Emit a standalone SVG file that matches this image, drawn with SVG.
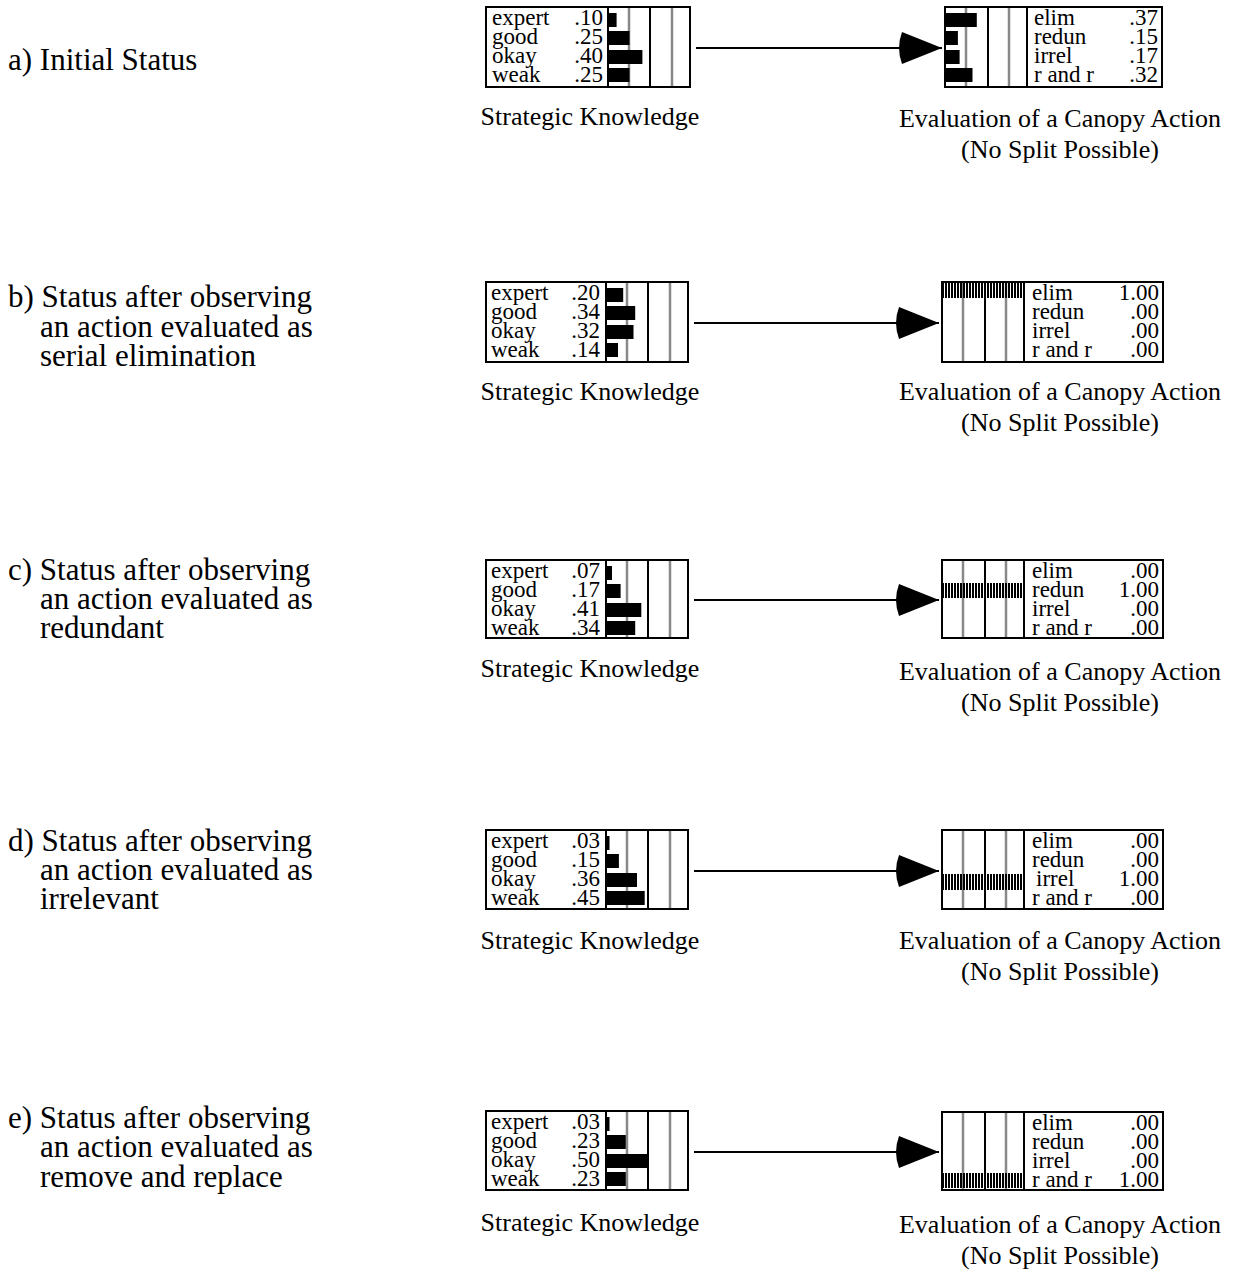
<svg xmlns="http://www.w3.org/2000/svg" width="1234" height="1270" viewBox="0 0 1234 1270">
<style>
.box{fill:#fff;stroke:#000;stroke-width:2}
.dv{stroke:#000;stroke-width:2}
.gr{stroke:#888;stroke-width:2.5}
.bk{stroke:#000;stroke-width:2}
.bar{fill:#000}
.hb{fill:url(#hatch)}
text{font-family:"Liberation Serif","Times New Roman",serif;fill:#000}
.t{font-size:23px}
.v{text-anchor:end}
.lbl{font-size:26px;text-anchor:middle}
.hd{font-size:31px}
.conn{stroke:#000;stroke-width:2;fill:none}
</style>
<defs>
<pattern id="hatch" width="3" height="40" patternUnits="userSpaceOnUse"><rect x="0" y="0" width="2" height="40" fill="#000"/></pattern>
<marker id="arr" viewBox="0 0 46 32" refX="46" refY="16" markerWidth="46" markerHeight="32" markerUnits="userSpaceOnUse" orient="auto"><path d="M46,16 L6,0 Q0,16 6,32 Z" fill="#000"/></marker>
</defs>

<!-- Panel a -->
<g id="panel-a">
<text class="hd" x="8" y="70">a) Initial Status</text>
<g id="sk-a" transform="translate(2,7)">
<rect class="box" x="484" y="0" width="204" height="80"/>
<line class="gr" x1="627" y1="1" x2="627" y2="79"/><line class="bk" x1="648" y1="1" x2="648" y2="79"/><line class="gr" x1="670" y1="1" x2="670" y2="79"/>
<rect class="bar" x="606" y="6" width="8.6" height="14"/><rect class="bar" x="606" y="24" width="21.5" height="14"/><rect class="bar" x="606" y="43" width="34.4" height="14"/><rect class="bar" x="606" y="61" width="21.5" height="14"/>
<line class="dv" x1="606" y1="0" x2="606" y2="80"/>
<text class="t" x="490" y="18">expert</text><text class="t" x="490" y="37">good</text><text class="t" x="490" y="56">okay</text><text class="t" x="490" y="75">weak</text>
<text class="t v" x="601" y="18">.10</text><text class="t v" x="601" y="37">.25</text><text class="t v" x="601" y="56">.40</text><text class="t v" x="601" y="75">.25</text>
<text class="lbl" x="588" y="118">Strategic Knowledge</text>
</g>
<g id="eval-a" transform="translate(3,7)">
<rect class="box" x="942" y="0" width="217" height="80"/>
<line class="gr" x1="963" y1="1" x2="963" y2="79"/><line class="bk" x1="985" y1="1" x2="985" y2="79"/><line class="gr" x1="1006" y1="1" x2="1006" y2="79"/>
<rect class="bar" x="942" y="6" width="31.8" height="14"/><rect class="bar" x="942" y="24" width="12.9" height="14"/><rect class="bar" x="942" y="43" width="14.6" height="14"/><rect class="bar" x="942" y="61" width="27.5" height="14"/>
<line class="dv" x1="1024" y1="0" x2="1024" y2="80"/>
<text class="t" x="1031" y="18">elim</text><text class="t" x="1031" y="37">redun</text><text class="t" x="1031" y="56">irrel</text><text class="t" x="1031" y="75">r and r</text>
<text class="t v" x="1155" y="18">.37</text><text class="t v" x="1155" y="37">.15</text><text class="t v" x="1155" y="56">.17</text><text class="t v" x="1155" y="75">.32</text>
<text class="lbl" x="1057" y="120">Evaluation of a Canopy Action</text>
<text class="lbl" x="1057" y="151">(No Split Possible)</text>
</g>
</g>

<!-- Panel b -->
<g id="panel-b">
<text class="hd" x="8" y="307">b) Status after observing</text>
<text class="hd" x="40" y="337">an action evaluated as</text>
<text class="hd" x="40" y="366">serial elimination</text>
<g id="sk-b" transform="translate(0,282)">
<rect class="box" x="486" y="0" width="202" height="80"/>
<line class="gr" x1="627" y1="1" x2="627" y2="79"/><line class="bk" x1="648" y1="1" x2="648" y2="79"/><line class="gr" x1="670" y1="1" x2="670" y2="79"/>
<rect class="bar" x="606" y="6" width="17.2" height="14"/><rect class="bar" x="606" y="24" width="29.2" height="14"/><rect class="bar" x="606" y="43" width="27.5" height="14"/><rect class="bar" x="606" y="61" width="12" height="14"/>
<line class="dv" x1="606" y1="0" x2="606" y2="80"/>
<text class="t" x="491" y="18">expert</text><text class="t" x="491" y="37">good</text><text class="t" x="491" y="56">okay</text><text class="t" x="491" y="75">weak</text>
<text class="t v" x="600" y="18">.20</text><text class="t v" x="600" y="37">.34</text><text class="t v" x="600" y="56">.32</text><text class="t v" x="600" y="75">.14</text>
<text class="lbl" x="590" y="118">Strategic Knowledge</text>
</g>
<g id="eval-b" transform="translate(0,282)">
<rect class="box" x="942" y="0" width="221" height="80"/>
<line class="gr" x1="963" y1="1" x2="963" y2="79"/><line class="bk" x1="985" y1="1" x2="985" y2="79"/><line class="gr" x1="1006" y1="1" x2="1006" y2="79"/>
<rect class="hb" x="943" y="1" width="81" height="15"/>
<line class="dv" x1="1024" y1="0" x2="1024" y2="80"/>
<text class="t" x="1032" y="18">elim</text><text class="t" x="1032" y="37">redun</text><text class="t" x="1032" y="56">irrel</text><text class="t" x="1032" y="75">r and r</text>
<text class="t v" x="1159" y="18">1.00</text><text class="t v" x="1159" y="37">.00</text><text class="t v" x="1159" y="56">.00</text><text class="t v" x="1159" y="75">.00</text>
<text class="lbl" x="1060" y="118">Evaluation of a Canopy Action</text>
<text class="lbl" x="1060" y="149">(No Split Possible)</text>
</g>
</g>

<!-- Panel c -->
<g id="panel-c">
<text class="hd" x="8" y="580">c) Status after observing</text>
<text class="hd" x="40" y="609">an action evaluated as</text>
<text class="hd" x="40" y="638">redundant</text>
<g id="sk-c" transform="translate(0,560)">
<rect class="box" x="486" y="0" width="202" height="78"/>
<line class="gr" x1="627" y1="1" x2="627" y2="77"/><line class="bk" x1="648" y1="1" x2="648" y2="77"/><line class="gr" x1="670" y1="1" x2="670" y2="77"/>
<rect class="bar" x="606" y="6" width="6" height="14"/><rect class="bar" x="606" y="24" width="14.6" height="14"/><rect class="bar" x="606" y="43" width="35.3" height="14"/><rect class="bar" x="606" y="61" width="29.2" height="14"/>
<line class="dv" x1="606" y1="0" x2="606" y2="78"/>
<text class="t" x="491" y="18">expert</text><text class="t" x="491" y="37">good</text><text class="t" x="491" y="56">okay</text><text class="t" x="491" y="75">weak</text>
<text class="t v" x="600" y="18">.07</text><text class="t v" x="600" y="37">.17</text><text class="t v" x="600" y="56">.41</text><text class="t v" x="600" y="75">.34</text>
<text class="lbl" x="590" y="117">Strategic Knowledge</text>
</g>
<g id="eval-c" transform="translate(0,560)">
<rect class="box" x="942" y="0" width="221" height="78"/>
<line class="gr" x1="963" y1="1" x2="963" y2="77"/><line class="bk" x1="985" y1="1" x2="985" y2="77"/><line class="gr" x1="1006" y1="1" x2="1006" y2="77"/>
<rect class="hb" x="943" y="23" width="81" height="15"/>
<line class="dv" x1="1024" y1="0" x2="1024" y2="78"/>
<text class="t" x="1032" y="18">elim</text><text class="t" x="1032" y="37">redun</text><text class="t" x="1032" y="56">irrel</text><text class="t" x="1032" y="75">r and r</text>
<text class="t v" x="1159" y="18">.00</text><text class="t v" x="1159" y="37">1.00</text><text class="t v" x="1159" y="56">.00</text><text class="t v" x="1159" y="75">.00</text>
<text class="lbl" x="1060" y="120">Evaluation of a Canopy Action</text>
<text class="lbl" x="1060" y="151">(No Split Possible)</text>
</g>
</g>

<!-- Panel d -->
<g id="panel-d">
<text class="hd" x="8" y="851">d) Status after observing</text>
<text class="hd" x="40" y="880">an action evaluated as</text>
<text class="hd" x="40" y="909">irrelevant</text>
<g id="sk-d" transform="translate(0,830)">
<rect class="box" x="486" y="0" width="202" height="79"/>
<line class="gr" x1="627" y1="1" x2="627" y2="78"/><line class="bk" x1="648" y1="1" x2="648" y2="78"/><line class="gr" x1="670" y1="1" x2="670" y2="78"/>
<rect class="bar" x="606" y="6" width="3.5" height="14"/><rect class="bar" x="606" y="24" width="12.9" height="14"/><rect class="bar" x="606" y="43" width="31" height="14"/><rect class="bar" x="606" y="61" width="38.7" height="14"/>
<line class="dv" x1="606" y1="0" x2="606" y2="79"/>
<text class="t" x="491" y="18">expert</text><text class="t" x="491" y="37">good</text><text class="t" x="491" y="56">okay</text><text class="t" x="491" y="75">weak</text>
<text class="t v" x="600" y="18">.03</text><text class="t v" x="600" y="37">.15</text><text class="t v" x="600" y="56">.36</text><text class="t v" x="600" y="75">.45</text>
<text class="lbl" x="590" y="119">Strategic Knowledge</text>
</g>
<g id="eval-d" transform="translate(0,830)">
<rect class="box" x="942" y="0" width="221" height="79"/>
<line class="gr" x1="963" y1="1" x2="963" y2="78"/><line class="bk" x1="985" y1="1" x2="985" y2="78"/><line class="gr" x1="1006" y1="1" x2="1006" y2="78"/>
<rect class="hb" x="943" y="44" width="81" height="16"/>
<line class="dv" x1="1024" y1="0" x2="1024" y2="79"/>
<text class="t" x="1032" y="18">elim</text><text class="t" x="1032" y="37">redun</text><text class="t" x="1036" y="56">irrel</text><text class="t" x="1032" y="75">r and r</text>
<text class="t v" x="1159" y="18">.00</text><text class="t v" x="1159" y="37">.00</text><text class="t v" x="1159" y="56">1.00</text><text class="t v" x="1159" y="75">.00</text>
<text class="lbl" x="1060" y="119">Evaluation of a Canopy Action</text>
<text class="lbl" x="1060" y="150">(No Split Possible)</text>
</g>
</g>

<!-- Panel e -->
<g id="panel-e">
<text class="hd" x="8" y="1128">e) Status after observing</text>
<text class="hd" x="40" y="1157">an action evaluated as</text>
<text class="hd" x="40" y="1187">remove and replace</text>
<g id="sk-e" transform="translate(0,1111)">
<rect class="box" x="486" y="0" width="202" height="79"/>
<line class="gr" x1="627" y1="1" x2="627" y2="78"/><line class="bk" x1="648" y1="1" x2="648" y2="78"/><line class="gr" x1="670" y1="1" x2="670" y2="78"/>
<rect class="bar" x="606" y="6" width="3.5" height="14"/><rect class="bar" x="606" y="24" width="19.8" height="14"/><rect class="bar" x="606" y="43" width="43" height="14"/><rect class="bar" x="606" y="61" width="19.8" height="14"/>
<line class="dv" x1="606" y1="0" x2="606" y2="79"/>
<text class="t" x="491" y="18">expert</text><text class="t" x="491" y="37">good</text><text class="t" x="491" y="56">okay</text><text class="t" x="491" y="75">weak</text>
<text class="t v" x="600" y="18">.03</text><text class="t v" x="600" y="37">.23</text><text class="t v" x="600" y="56">.50</text><text class="t v" x="600" y="75">.23</text>
<text class="lbl" x="590" y="120">Strategic Knowledge</text>
</g>
<g id="eval-e" transform="translate(0,1112)">
<rect class="box" x="942" y="0" width="221" height="78"/>
<line class="gr" x1="963" y1="1" x2="963" y2="77"/><line class="bk" x1="985" y1="1" x2="985" y2="77"/><line class="gr" x1="1006" y1="1" x2="1006" y2="77"/>
<rect class="hb" x="943" y="61" width="81" height="15"/>
<line class="dv" x1="1024" y1="0" x2="1024" y2="78"/>
<text class="t" x="1032" y="18">elim</text><text class="t" x="1032" y="37">redun</text><text class="t" x="1032" y="56">irrel</text><text class="t" x="1032" y="75">r and r</text>
<text class="t v" x="1159" y="18">.00</text><text class="t v" x="1159" y="37">.00</text><text class="t v" x="1159" y="56">.00</text><text class="t v" x="1159" y="75">1.00</text>
<text class="lbl" x="1060" y="121">Evaluation of a Canopy Action</text>
<text class="lbl" x="1060" y="152">(No Split Possible)</text>
</g>
</g>

<g id="connectors">
<line class="conn" x1="696" y1="48" x2="942" y2="48" marker-end="url(#arr)"/>
<line class="conn" x1="694" y1="323" x2="939" y2="323" marker-end="url(#arr)"/>
<line class="conn" x1="694" y1="600" x2="939" y2="600" marker-end="url(#arr)"/>
<line class="conn" x1="694" y1="871" x2="939" y2="871" marker-end="url(#arr)"/>
<line class="conn" x1="694" y1="1152" x2="939" y2="1152" marker-end="url(#arr)"/>
</g>
</svg>
